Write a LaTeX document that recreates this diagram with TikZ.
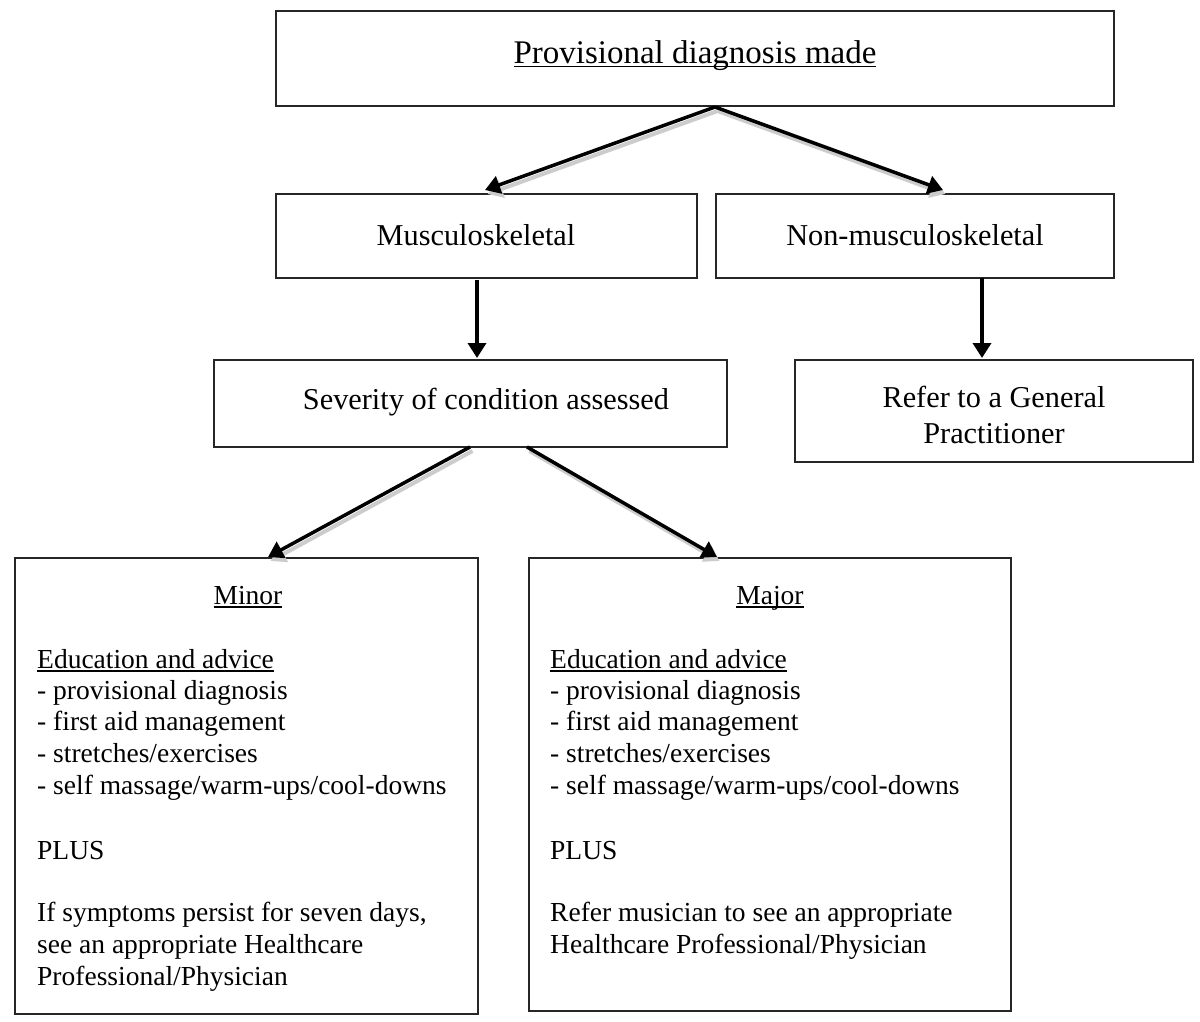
\documentclass[tikz,border=0pt]{standalone}
\usepackage{fontspec}
\setmainfont{Liberation Serif}
\usetikzlibrary{arrows.meta}
\newcommand\myul[1]{\leavevmode\setbox0\hbox{#1}\rlap{\rule[-3.5pt]{\wd0}{1.4pt}}\box0}
\begin{document}
\begin{tikzpicture}[x=1pt,y=-1pt,
  box/.style={draw=black!85,line width=1.3pt},
  txt/.style={inner sep=0pt,font=\fontsize{27.5}{31.6}\selectfont},
  big/.style={inner sep=0pt,anchor=base,font=\fontsize{30.3}{36}\selectfont},
  lt/.style={txt,anchor=base west},
  ct/.style={txt,anchor=base},
  arr/.style={line width=3.5pt,-{Triangle[length=15pt,width=18pt]}},
  shd/.style={arr,line width=4pt,draw=black!20,fill=black!20,transform canvas={xshift=2.5pt,yshift=-4pt}}]
\useasboundingbox (0,0) rectangle (1200,1022);
% boxes
\draw[box] (276,11) rectangle (1114,106);
\draw[box] (276,194) rectangle (697,278);
\draw[box] (716,194) rectangle (1114,278);
\draw[box] (214,360) rectangle (727,447);
\draw[box] (795,360) rectangle (1193,462);
\draw[box] (15,558) rectangle (478,1014);
\draw[box] (529,558) rectangle (1011,1011);
% texts
\node[inner sep=0pt,anchor=base,font=\fontsize{33}{38}\selectfont] (t1) at (695,64) {\myul{Provisional diagnosis made}};
\node[big] (t2) at (476,245) {Musculoskeletal};
\node[big] (t3) at (915,245) {Non-musculoskeletal};
\node[big] (t4) at (486,409) {Severity of condition assessed};
\node[big,anchor=center,align=center] (t5) at (994,415) {Refer to a General\\Practitioner};
\node[ct] (mi) at (248,604) {\myul{Minor}};
\node[lt] (m1) at (37,668) {\myul{Education and advice}};
\node[lt] (m2) at (37,699) {- provisional diagnosis};
\node[lt] (m3) at (37,730) {- first aid management};
\node[lt] (m4) at (37,762) {- stretches/exercises};
\node[lt] (m5) at (37,794) {- self massage/warm-ups/cool-downs};
\node[lt] (m6) at (37,859) {PLUS};
\node[lt] (m7) at (37,921) {If symptoms persist for seven days,};
\node[lt] (m8) at (37,953) {see an appropriate Healthcare};
\node[lt] (m9) at (37,985) {Professional/Physician};
\node[ct] (ma) at (770,604) {\myul{Major}};
\node[lt] (j1) at (550,668) {\myul{Education and advice}};
\node[lt] (j2) at (550,699) {- provisional diagnosis};
\node[lt] (j3) at (550,730) {- first aid management};
\node[lt] (j4) at (550,762) {- stretches/exercises};
\node[lt] (j5) at (550,794) {- self massage/warm-ups/cool-downs};
\node[lt] (j6) at (550,859) {PLUS};
\node[lt] (j7) at (550,921) {Refer musician to see an appropriate};
\node[lt] (j8) at (550,953) {Healthcare Professional/Physician};
% connector endpoints
\coordinate (a1s) at (715,107); \coordinate (a1e) at (485,190);
\coordinate (a2e) at (943,190);
\coordinate (a3s) at (477,280); \coordinate (a3e) at (477,358);
\coordinate (a4s) at (982,278); \coordinate (a4e) at (982,358);
\coordinate (a5s) at (470,447); \coordinate (a5e) at (268,557);
\coordinate (a6s) at (527,447); \coordinate (a6e) at (717,557);
% shadows
\draw[shd] (a1s) -- (a1e);
\draw[shd] (a1s) -- (a2e);
\draw[shd] (a5s) -- (a5e);
\draw[shd] (a6s) -- (a6e);
% arrows
\draw[arr] (a1s) -- (a1e);
\draw[arr] (a1s) -- (a2e);
\draw[arr] (a3s) -- (a3e);
\draw[arr] (a4s) -- (a4e);
\draw[arr] (a5s) -- (a5e);
\draw[arr] (a6s) -- (a6e);
\end{tikzpicture}
\end{document}
